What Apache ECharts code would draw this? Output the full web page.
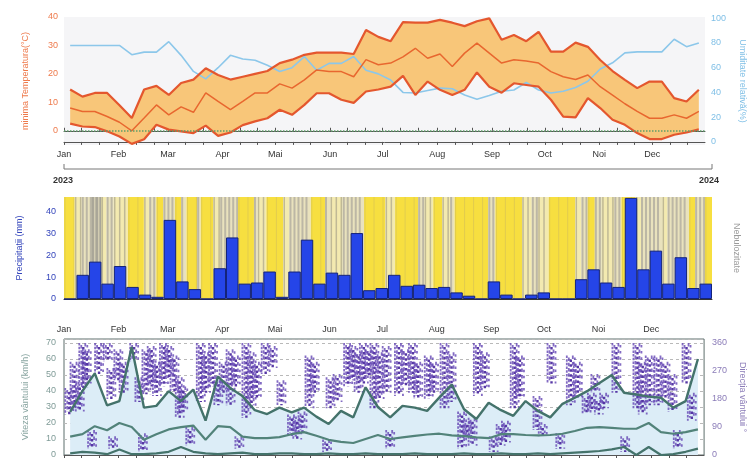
<!DOCTYPE html>
<html><head><meta charset="utf-8">
<script src="https://cdn.jsdelivr.net/npm/echarts@6/dist/echarts.min.js"></script>
<style>html,body{margin:0;padding:0;background:#fff}#c{width:755px;height:467px}</style>
</head><body><div id="c"></div>
<script>
// ---------- DATA ----------
const monthLabels = ['Jan','Feb','Mar','Apr','Mai','Jun','Jul','Aug','Sep','Oct','Noi','Dec'];
const yearLabels = ['2023','2024'];
// weekly values (52 weeks, centred in each week)
const tempMax  = [14.5,12,13.3,13.3,9,4.5,14.5,15.8,12.6,16.8,18,22,19.6,18,19,20,21,23.8,25,26.7,27.5,27.5,27.5,27,35.4,33,31.5,38.2,38,38,39,38,36.8,38.5,39.5,32,33.7,31.5,34.8,27.8,27.8,31,29.5,24.9,21,17.9,15,17.3,17.3,11.5,10.3,14.4];
const tempMean = [8,6.8,6.8,5,3,0,4.5,9.1,5.6,8.4,6.5,13.3,10.3,7.4,10.3,13.3,13.3,16.5,15,17.9,21.4,20.8,20.8,19,25,23.2,23.8,26,29,25.5,27,22.6,27.3,30.8,27.3,23.8,25,24.5,23.8,20.8,19,18,19.6,15.5,12.5,9.5,6.8,4.4,4.4,5.6,4.4,6.8];
const tempMin  = [2.5,1.5,1.3,-0.2,-2,-4.6,-3,2.1,0.4,-0.2,-0.8,1.8,-1.8,-0.6,2,3.3,4.4,7.4,5.6,9.1,13.2,13.2,10.9,9.8,13.8,14.5,15.5,19.3,12.6,17.3,14.4,12.6,14.4,20.5,15.5,13.4,16.7,16.1,15.5,10.9,5,4.7,11.5,8,3.9,2.1,-0.8,-2.9,-2.9,-1.4,-0.6,0.5];
const humidity = [78,78,78,78,78,70.5,72.6,72.6,81,70,57,51,60,70,67,66,62,57,60,69,58,63.5,63.5,69,58,55,50,40,39.5,41.5,43.5,43,38,34.5,37.5,41,42,48,42,39.5,41,44,49,59,64,72,72.8,72.8,72.8,83,77,80];
const precip   = [0,11,17,7,15,5.5,2,1,36,8,4.5,0,14,28,7,7.5,12.5,1,12.5,27,7,12,11,30,4,5,11,6,6.5,5,5.5,3,1.5,0,8,2,0,2,3,0,0,9,13.5,7.5,5.5,46,13.5,22,7,19,5,7];
const windMax  = [27,40,51,31,33.7,67.5,29.6,30.7,39.9,33.7,40.9,21.5,49,41.9,36.8,28,25.6,29.6,26.6,29.6,24,19.4,27.6,23.5,42.3,30,23.5,30.7,29.6,27.6,36,44,28.6,22.5,32.7,28,24.5,33.7,27.6,23.5,32,35.8,39.9,45,50,38.9,37.8,36.5,35.8,29.6,33.7,60];
const windMean = [11.5,13,18,15.5,20,17.5,9.5,13,16,17.4,18.4,9.5,18,17.4,11.5,10.5,10.5,11.2,13,14.3,12,9.5,8.2,7.5,10,12.5,10,11,12,12.8,13.3,12.3,11.8,11,10.5,13,13,12.5,12.3,12.5,13.3,15,17,17.4,17,16.4,16.4,20,14.3,13.3,14.3,16];
const windMin  = [1,2,1.5,0.5,3.5,0.5,0.5,1,2,5,2,1,0.5,1,1.5,0.5,0.5,1,1,0.5,0.5,1,0.5,0.5,1,0.5,0.5,0.5,1,0.5,0.5,0.5,1,0.5,0.5,1,0.5,0.5,1,0.5,1,1.5,2,2.5,3.5,5,0,5,0,0.5,2,4];
// sunshine / cloud periods behind precipitation: [startDay, endDay, kind]
const sunSegments = [[0,6,'Y'],[6,10,'p'],[10,15.6,'g'],[15.6,21,'G'],[21,24,'p'],[24,28,'g'],[28,36,'p'],[36,45,'Y'],[45,48,'p'],[48,52,'g'],[52,56,'Y'],[56,62.5,'g'],[62.5,66,'Y'],[66,69,'g'],[69,75,'Y'],[75,77,'g'],[77,84,'Y'],[84,88,'p'],[88,98,'g'],[98,107,'Y'],[107,109,'g'],[109,114,'p'],[114,123.5,'Y'],[123.5,127,'p'],[127,139,'g'],[139,147,'Y'],[147,150,'g'],[150,157,'p'],[157,169,'g'],[169,181,'Y'],[181,186.5,'p'],[186.5,199.5,'Y'],[199.5,203,'g'],[203,208,'p'],[208,213,'Y'],[213,217.5,'p'],[217.5,220,'g'],[220,239,'Y'],[239,243,'g'],[243,258,'Y'],[258,263.5,'p'],[263.5,267,'g'],[267,273,'p'],[273,288,'Y'],[288,291.5,'p'],[291.5,295,'g'],[295,299,'Y'],[299,303,'g'],[303,310,'p'],[310,314,'g'],[314,322,'Y'],[322,325,'p'],[325,337,'g'],[337,340,'p'],[340,352,'g'],[352,355.5,'Y'],[355.5,361,'g'],[361,365,'Y']];
// wind direction clusters: [day, fromDeg, toDeg]
const windDirStreaks = [[3,130,215],[6,150,300],[9,140,230],[11,215,360],[13,230,340],[16,20,80],[20,260,360],[25,300,360],[27,180,280],[28,20,60],[31,240,340],[34,200,300],[40,300,360],[43,170,250],[45,10,70],[47,195,340],[50,220,350],[53,190,300],[57,220,360],[60,250,350],[63,200,320],[66,120,250],[68,140,220],[72,30,90],[78,170,360],[81,200,330],[85,220,360],[88,160,240],[91,200,300],[95,160,340],[98,220,320],[100,20,60],[104,120,360],[107,150,330],[110,180,300],[115,260,360],[119,280,350],[124,160,240],[130,60,130],[133,50,120],[136,70,140],[140,150,320],[143,200,300],[150,10,50],[152,150,250],[156,170,260],[162,220,360],[165,240,350],[168,200,330],[171,230,360],[174,250,340],[177,150,360],[180,180,330],[184,200,350],[186,20,80],[191,190,360],[195,220,340],[199,200,360],[202,180,300],[208,180,320],[211,200,300],[217,150,360],[221,170,330],[227,20,140],[230,50,110],[233,30,120],[236,190,360],[240,210,330],[245,10,60],[249,30,100],[252,40,110],[257,150,360],[260,180,320],[270,80,190],[273,60,100],[278,230,360],[283,20,70],[289,160,320],[293,180,300],[298,130,190],[301,140,200],[303,200,260],[305,130,180],[308,150,200],[315,200,360],[320,10,60],[327,150,360],[330,130,300],[334,160,320],[339,160,320],[343,180,300],[347,140,260],[350,20,80],[355,230,360],[358,110,200]];

// ---------- helpers ----------
const DAYS = 365, WEEKS = 52;
const dayCats = Array.from({length: DAYS}, (_, i) => String(i));
const weekCats = Array.from({length: WEEKS}, (_, i) => String(i));
const weekDays = Array.from({length: WEEKS}, (_, i) => (i + 0.5) * DAYS / WEEKS);
const dateOf = i => new Date(Date.UTC(2023, 0, 1) + i * 86400000);
const isMonthStart = i => dateOf(i).getUTCDate() === 1;
const isDekad = i => [1, 11, 21].includes(dateOf(i).getUTCDate());
const monthOf = i => monthLabels[dateOf(i).getUTCMonth()];
const pairs = arr => weekDays.map((d, i) => [d, arr[i]]);
const FONT = 'Liberation Sans';
// stripe look per kind: base fill, stripe colour, stripe width, stripe period (px)
const sunStyle = {
  Y: {fill: '#f7df40', stripe: 'rgba(210,190,90,0.55)', w: 1, step: 9},
  p: {fill: '#f3eab0', stripe: 'rgba(175,168,140,0.75)', w: 1.5, step: 5},
  g: {fill: '#e9e2bd', stripe: '#bcb7a5', w: 2, step: 4},
  G: {fill: '#d2ccb2', stripe: '#a9a698', w: 2.5, step: 4}
};

const chart = echarts.init(document.getElementById('c'), null, {renderer: 'canvas'});
const monthAxis = (grid, pos, labels) => ({
  type: 'category', gridIndex: grid, data: dayCats, position: pos, boundaryGap: false,
  axisLine: {show: true, lineStyle: {color: '#555', width: 1}},
  axisTick: {show: true, inside: true, length: 3, interval: i => isDekad(i), lineStyle: {color: '#555'}},
  axisLabel: {show: labels, interval: i => isMonthStart(i), formatter: (v, i) => monthOf(+v),
              fontSize: 9, color: '#333', fontFamily: FONT, margin: 5},
  splitLine: {show: false}
});
const hiddenVal = grid => ({type: 'value', gridIndex: grid, min: 0, max: DAYS, show: false});

const option = {
  animation: false,
  backgroundColor: '#ffffff',
  textStyle: {fontFamily: FONT},
  grid: [
    {left: 64, right: 43, top: 17, height: 128, show: true, backgroundColor: '#f5f5f7', borderWidth: 0},
    {left: 64, right: 43, top: 197, height: 102, show: false},
    {left: 64, right: 43, top: 339, height: 116, show: true, backgroundColor: '#ffffff', borderColor: '#5d6f6c', borderWidth: 1}
  ],
  xAxis: [
    monthAxis(0, 'bottom', true),          // 0
    monthAxis(0, 'top', false),            // 1
    hiddenVal(0),                          // 2
    hiddenVal(1),                          // 3
    {type: 'category', gridIndex: 1, data: weekCats, boundaryGap: true,
     axisLine: {show: true, lineStyle: {color: '#333'}}, axisTick: {show: false}, axisLabel: {show: false}}, // 4
    monthAxis(2, 'top', true),             // 5
    hiddenVal(2)                           // 6
  ],
  yAxis: [
    {type: 'value', gridIndex: 0, min: -5, max: 40, interval: 5, position: 'left',
     axisLine: {show: false}, axisTick: {show: false}, splitLine: {show: false},
     axisLabel: {formatter: v => (v % 10 === 0 ? v : ''), color: '#ee7a4c', fontSize: 9, margin: 6},
     name: 'minima Temperatura(°C)', nameLocation: 'middle', nameGap: 34,
     nameTextStyle: {color: '#ee7a4c', fontSize: 9}},
    {type: 'value', gridIndex: 0, min: -2.5, max: 101, interval: 2.5, position: 'right',
     axisLine: {show: false}, axisTick: {show: false}, splitLine: {show: false},
     axisLabel: {formatter: v => (v % 20 === 0 ? v : ''), color: '#7fbfe6', fontSize: 9, margin: 6},
     name: 'Umiditate relativă(%)', nameLocation: 'middle', nameGap: 33, nameRotate: -90,
     nameTextStyle: {color: '#7fbfe6', fontSize: 9}},
    {type: 'value', gridIndex: 1, min: 0, max: 46.4, interval: 10, position: 'left',
     axisLine: {show: false}, axisTick: {show: false},
     splitLine: {show: false},
     axisLabel: {formatter: v => (v % 10 === 0 ? v : ''), color: '#3344bb', fontSize: 9, margin: 8},
     name: 'Precipitații (mm)', nameLocation: 'middle', nameGap: 40,
     nameTextStyle: {color: '#3344bb', fontSize: 9}},
    {type: 'value', gridIndex: 1, min: 0, max: 46.4, position: 'right', show: true,
     axisLine: {show: false}, axisTick: {show: false}, axisLabel: {show: false}, splitLine: {show: false},
     name: 'Nebulozitate', nameLocation: 'middle', nameGap: 20, nameRotate: -90,
     nameTextStyle: {color: '#9a9a9a', fontSize: 9}},
    {type: 'value', gridIndex: 2, min: 0, max: 72.5, interval: 10, position: 'left',
     axisLine: {show: false}, axisTick: {show: false},
     splitLine: {show: true, lineStyle: {type: [3, 3], color: '#b9b9b9', width: 1}},
     axisLabel: {formatter: v => (v % 10 === 0 ? v : ''), color: '#7f9b97', fontSize: 9, margin: 8},
     name: 'Viteza vântului (km/h)', nameLocation: 'middle', nameGap: 34,
     nameTextStyle: {color: '#8aa6a2', fontSize: 9}},
    {type: 'value', gridIndex: 2, min: 0, max: 372.9, interval: 90, position: 'right',
     axisLine: {show: false}, axisTick: {show: false}, splitLine: {show: false},
     axisLabel: {formatter: v => (v % 90 === 0 ? v : ''), color: '#8b7cb8', fontSize: 9, margin: 8},
     name: 'Direcția vântului °', nameLocation: 'middle', nameGap: 33, nameRotate: -90,
     nameTextStyle: {color: '#8b7cb8', fontSize: 9}}
  ],
  series: [
    // ---- top panel ----
    {type: 'custom', xAxisIndex: 2, yAxisIndex: 0, z: 1, silent: true,
     data: [[weekDays[0], tempMax[0]]],
     renderItem: (p, api) => {
       const pts = [];
       for (let i = 0; i < WEEKS; i++) pts.push(api.coord([weekDays[i], tempMax[i]]));
       for (let i = WEEKS - 1; i >= 0; i--) pts.push(api.coord([weekDays[i], tempMin[i]]));
       return {type: 'polygon', shape: {points: pts}, style: {fill: '#f8c679'}};
     }},
    {type: 'line', xAxisIndex: 2, yAxisIndex: 1, data: pairs(humidity), symbol: 'none', z: 2,
     lineStyle: {color: '#8cc7ea', width: 1.6}},
    {type: 'line', xAxisIndex: 2, yAxisIndex: 0, data: pairs(tempMin), symbol: 'none', z: 4,
     lineStyle: {color: '#e4572e', width: 2.2},
     markLine: {silent: true, symbol: ['none', 'none'], label: {show: false},
                lineStyle: {type: 'dotted', color: '#5f9f6a', width: 1.5}, data: [{yAxis: 0}]}},
    {type: 'line', xAxisIndex: 2, yAxisIndex: 0, data: pairs(tempMean), symbol: 'none', z: 4,
     lineStyle: {color: '#e8672f', width: 1.5}},
    {type: 'line', xAxisIndex: 2, yAxisIndex: 0, data: pairs(tempMax), symbol: 'none', z: 4,
     lineStyle: {color: '#e4572e', width: 2.2}},
    // ---- precipitation panel ----
    {type: 'custom', xAxisIndex: 3, yAxisIndex: 2, z: 1, silent: true, data: sunSegments,
     renderItem: (p, api) => {
       const s = sunSegments[p.dataIndex], st = sunStyle[s[2]];
       const a = api.coord([s[0], 46.4]), b = api.coord([s[1], 0]);
       const kids = [{type: 'rect', shape: {x: a[0], y: a[1], width: b[0] - a[0], height: b[1] - a[1]}, style: {fill: st.fill}}];
       for (let x = a[0] + 1; x < b[0] - 0.5; x += st.step) {
         kids.push({type: 'line', shape: {x1: x, y1: a[1], x2: x, y2: b[1]}, style: {stroke: st.stripe, lineWidth: st.w}});
       }
       return {type: 'group', children: kids};
     }},
    {type: 'bar', xAxisIndex: 4, yAxisIndex: 2, data: precip, barWidth: '100%', barGap: 0, z: 3,
     itemStyle: {color: '#2545e8', borderColor: '#14237a', borderWidth: 1}},
    // ---- wind panel ----
    {type: 'line', xAxisIndex: 6, yAxisIndex: 4, data: pairs(windMax), symbol: 'none', z: 1,
     lineStyle: {width: 0}, areaStyle: {color: '#dcedf7', opacity: 1, origin: 'start'}},
    {type: 'custom', xAxisIndex: 6, yAxisIndex: 5, z: 2, silent: true, data: windDirStreaks,
     renderItem: (p, api) => {
       const s = windDirStreaks[p.dataIndex];
       const a = api.coord([s[0], s[2]]), b = api.coord([s[0], s[1]]);
       const kids = [-4, -2, 0, 2, 4].map((dx, k) => ({type: 'line',
         shape: {x1: a[0] + dx, y1: a[1] + (k % 3) * 2, x2: b[0] + dx, y2: b[1] - (k % 2) * 3},
         style: {stroke: k === 2 ? 'rgba(78,45,160,0.95)' : 'rgba(100,70,180,0.8)', lineWidth: k === 2 ? 2.4 : 1.8,
                 lineDash: [2.5 + (k % 2), 1.2 + k * 0.6]}}));
       return {type: 'group', children: kids};
     }},
    {type: 'line', xAxisIndex: 6, yAxisIndex: 4, data: pairs(windMin), symbol: 'none', z: 4,
     lineStyle: {color: '#44736b', width: 2.2}},
    {type: 'line', xAxisIndex: 6, yAxisIndex: 4, data: pairs(windMean), symbol: 'none', z: 4,
     lineStyle: {color: '#52837a', width: 2.2}},
    {type: 'line', xAxisIndex: 6, yAxisIndex: 4, data: pairs(windMax), symbol: 'none', z: 4,
     lineStyle: {color: '#44736b', width: 2.4}}
  ],
  graphic: [
    {type: 'line', shape: {x1: 64, y1: 169, x2: 712, y2: 169}, style: {stroke: '#777', lineWidth: 1}},
    {type: 'line', shape: {x1: 64, y1: 164, x2: 64, y2: 169}, style: {stroke: '#777', lineWidth: 1}},
    {type: 'line', shape: {x1: 712, y1: 164, x2: 712, y2: 169}, style: {stroke: '#777', lineWidth: 1}},
    {type: 'text', left: 53, top: 176, style: {text: yearLabels[0], fontSize: 9, fontWeight: 'bold', fill: '#333', fontFamily: FONT}},
    {type: 'text', left: 699, top: 176, style: {text: yearLabels[1], fontSize: 9, fontWeight: 'bold', fill: '#333', fontFamily: FONT}}
  ]
};
chart.setOption(option);
</script></body></html>
